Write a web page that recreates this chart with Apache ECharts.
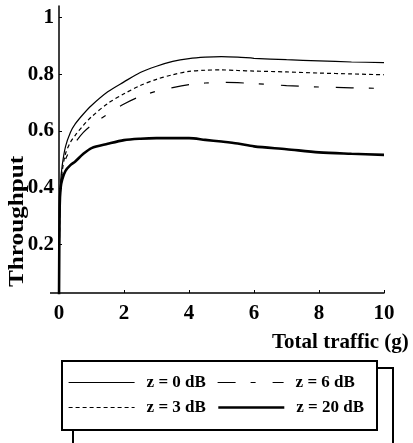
<!DOCTYPE html>
<html>
<head>
<meta charset="utf-8">
<script src="https://cdn.jsdelivr.net/npm/echarts@6/dist/echarts.min.js"></script>
<style>
  html, body { margin: 0; padding: 0; background: #fff; }
  #chart { width: 413px; height: 443px; }
</style>
</head>
<body>
<div id="chart"></div>
<script>
// shared traffic values (g)
const traffic = [0, 0.02, 0.05, 0.1, 0.2, 0.35, 0.5, 0.75, 1, 1.5, 2, 2.5, 3, 3.5, 4, 4.5, 5, 5.5, 6, 7, 8, 9, 10];
// throughput per capture ratio
const z0 = [0, 0.3, 0.42, 0.48, 0.545, 0.595, 0.625, 0.66, 0.69, 0.738, 0.773, 0.806, 0.828, 0.845, 0.855, 0.86, 0.862, 0.86, 0.856, 0.851, 0.847, 0.843, 0.841];
const z3 = [0, 0.28, 0.4, 0.46, 0.52, 0.56, 0.585, 0.62, 0.65, 0.697, 0.731, 0.76, 0.782, 0.798, 0.81, 0.814, 0.815, 0.813, 0.811, 0.808, 0.804, 0.801, 0.798];
const z6 = [0, 0.27, 0.39, 0.45, 0.5, 0.535, 0.56, 0.595, 0.62, 0.66, 0.695, 0.722, 0.74, 0.753, 0.763, 0.769, 0.771, 0.77, 0.767, 0.76, 0.755, 0.752, 0.75];
const z20 = [0, 0.33, 0.4, 0.43, 0.46, 0.48, 0.493, 0.52, 0.54, 0.555, 0.568, 0.573, 0.575, 0.575, 0.575, 0.569, 0.563, 0.556, 0.546, 0.536, 0.525, 0.52, 0.516];
const names = ['z = 0 dB', 'z = 3 dB', 'z = 6 dB', 'z = 20 dB'];
const yTicks = [0.2, 0.4, 0.6, 0.8, 1];

const font = 'Liberation Serif';
const pairs = (ys) => traffic.map((x, i) => [x, ys[i]]);

function makeSeries(name, ys, width, dash) {
  return {
    name: name,
    type: 'line',
    data: pairs(ys),
    symbol: 'none',
    smooth: 0.3,
    color: '#000',
    lineStyle: { color: '#000', width: width, type: dash },
    animation: false
  };
}

function makeLegend(name, left, top, lineWidth) {
  return {
    data: [name],
    left: left,
    top: top,
    padding: 0,
    itemWidth: 66,
    itemHeight: 14,
    selectedMode: false,
    itemStyle: { opacity: 0, borderWidth: 0 },
    lineStyle: { width: lineWidth },
    textStyle: {
      fontFamily: font, fontWeight: 'bold', fontSize: 17, color: '#000',
      padding: [0, 0, 0, 7]
    }
  };
}

let chart = echarts.init(document.getElementById('chart'));
chart.setOption({
  backgroundColor: '#fff',
  animation: false,
  grid: { left: 59, right: 29, top: 6, bottom: 150 },
  xAxis: {
    type: 'value',
    min: 0,
    max: 10,
    interval: 2,
    splitLine: { show: false },
    axisLine: { lineStyle: { color: '#000', width: 1.5 } },
    axisTick: { inside: true, length: 3, lineStyle: { color: '#000' } },
    axisLabel: {
      margin: 10,
      fontFamily: font, fontWeight: 'bold', fontSize: 21, color: '#000'
    }
  },
  yAxis: {
    type: 'value',
    min: 0.03,
    max: 1.04,
    splitLine: { show: false },
    axisLine: { lineStyle: { color: '#000', width: 1.5 } },
    axisTick: { customValues: yTicks, inside: true, length: 3, lineStyle: { color: '#000' } },
    axisLabel: {
      customValues: yTicks,
      margin: 5,
      formatter: (v) => String(+v.toFixed(1)),
      fontFamily: font, fontWeight: 'bold', fontSize: 21, color: '#000'
    }
  },
  legend: [
    makeLegend(names[0], 68, 374, 1.2),
    makeLegend(names[2], 217, 374, 1.2),
    makeLegend(names[1], 68, 399, 1.2),
    makeLegend(names[3], 217, 399, 2.6)
  ],
  graphic: [
    {
      type: 'text', left: 272, top: 332,
      style: { text: 'Total traffic (g)', fontFamily: font, fontWeight: 'bold', fontSize: 21, fill: '#000' }
    },
    {
      type: 'text', x: 7, y: 287, rotation: Math.PI / 2, scaleX: 1.2,
      style: { text: 'Throughput', fontFamily: font, fontWeight: 'bold', fontSize: 21, fill: '#000' }
    },
    {
      type: 'line', shape: { x1: 50, y1: 293, x2: 59, y2: 293 },
      style: { stroke: '#000', lineWidth: 1.5 }
    },
    {
      type: 'rect', shape: { x: 62, y: 361, width: 315, height: 69 },
      style: { fill: 'none', stroke: '#000', lineWidth: 2 }
    },
    {
      type: 'polyline', shape: { points: [[377, 368], [393, 368], [393, 443]] },
      style: { fill: 'none', stroke: '#000', lineWidth: 2 }
    },
    {
      type: 'polyline', shape: { points: [[73, 430], [73, 443]] },
      style: { fill: 'none', stroke: '#000', lineWidth: 2 }
    }
  ],
  series: [
    makeSeries(names[0], z0, 1.2, 'solid'),
    makeSeries(names[1], z3, 1.2, [4, 3]),
    makeSeries(names[2], z6, 1.2, [18, 15, 5, 17]),
    makeSeries(names[3], z20, 2.6, 'solid')
  ]
});
</script>
</body>
</html>
